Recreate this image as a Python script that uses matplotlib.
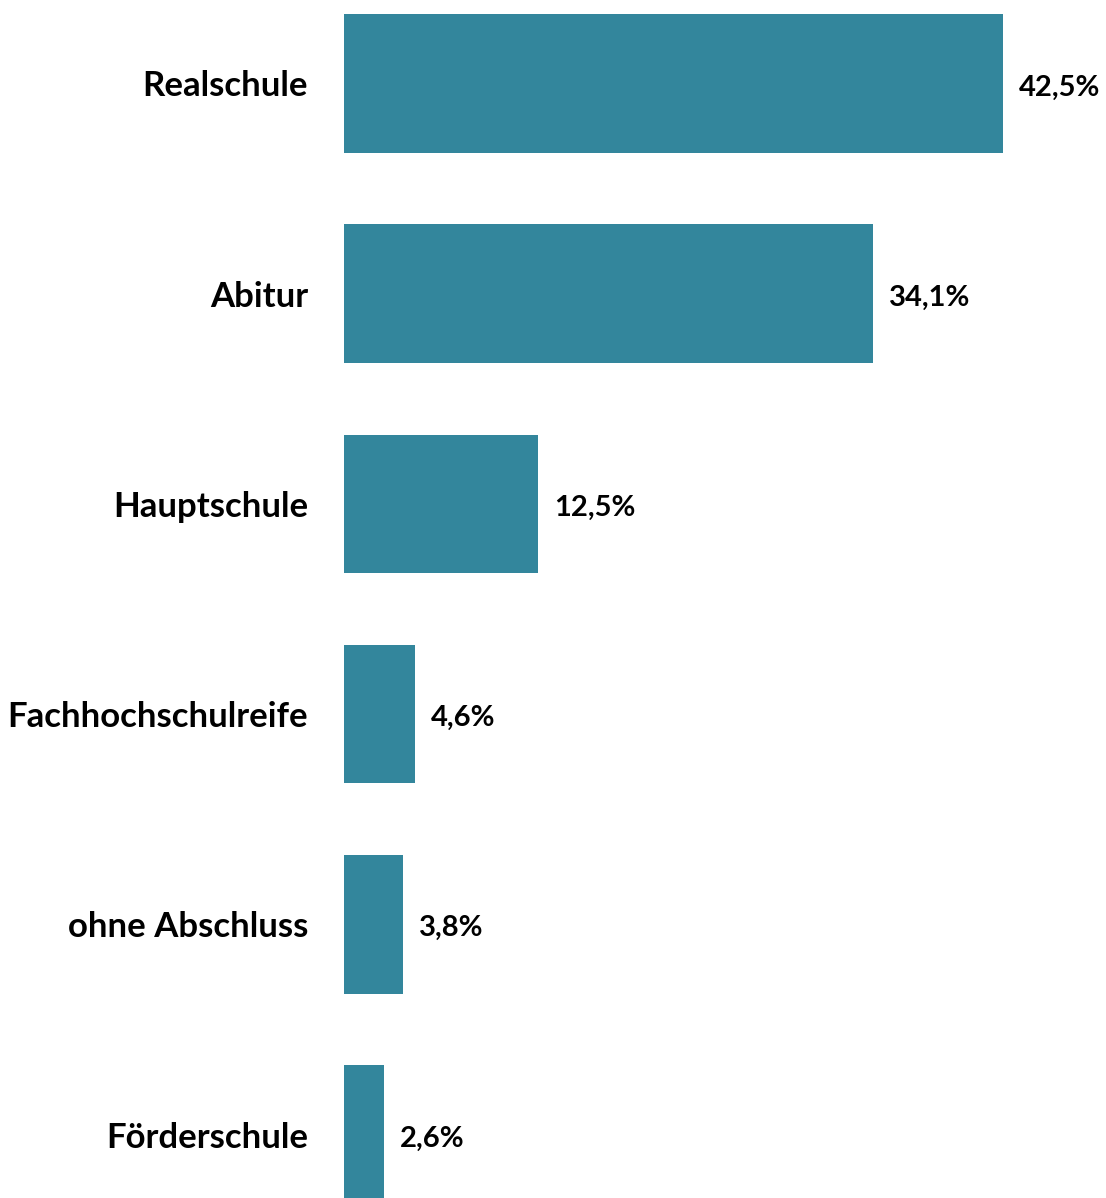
import matplotlib
matplotlib.use("Agg")
import matplotlib.pyplot as plt

categories = ["Realschule", "Abitur", "Hauptschule", "Fachhochschulreife", "ohne Abschluss", "Förderschule"]
values = [42.5, 34.1, 12.5, 4.6, 3.8, 2.6]
value_labels = ["42,5%", "34,1%", "12,5%", "4,6%", "3,8%", "2,6%"]

bar_color = "#33869C"
plt.rcParams['font.family'] = ['Lato', 'DejaVu Sans']

fig = plt.figure(figsize=(11.06, 11.98), dpi=100)
ax = fig.add_axes([344 / 1106, 0, 1 - 344 / 1106, 1])

pos = list(range(len(categories)))
ax.barh(pos, values, height=0.66, color=bar_color)
for p, v, lab in zip(pos, values, value_labels):
    ax.annotate(lab, (v, p), xytext=(16, -4), textcoords='offset pixels',
                va='center', ha='left', fontsize=21, fontweight='bold', color='black')

ax.set_yticks(pos)
ax.set_yticklabels(categories, fontsize=25, fontweight='bold')
ax.tick_params(axis='y', length=0, pad=26)
ax.set_xticks([])
ax.set_xlim(0, 762 / 15.5)
ax.set_ylim(5.302, -0.397)
for s in ax.spines.values():
    s.set_visible(False)

fig.savefig("out.png", dpi=100)
